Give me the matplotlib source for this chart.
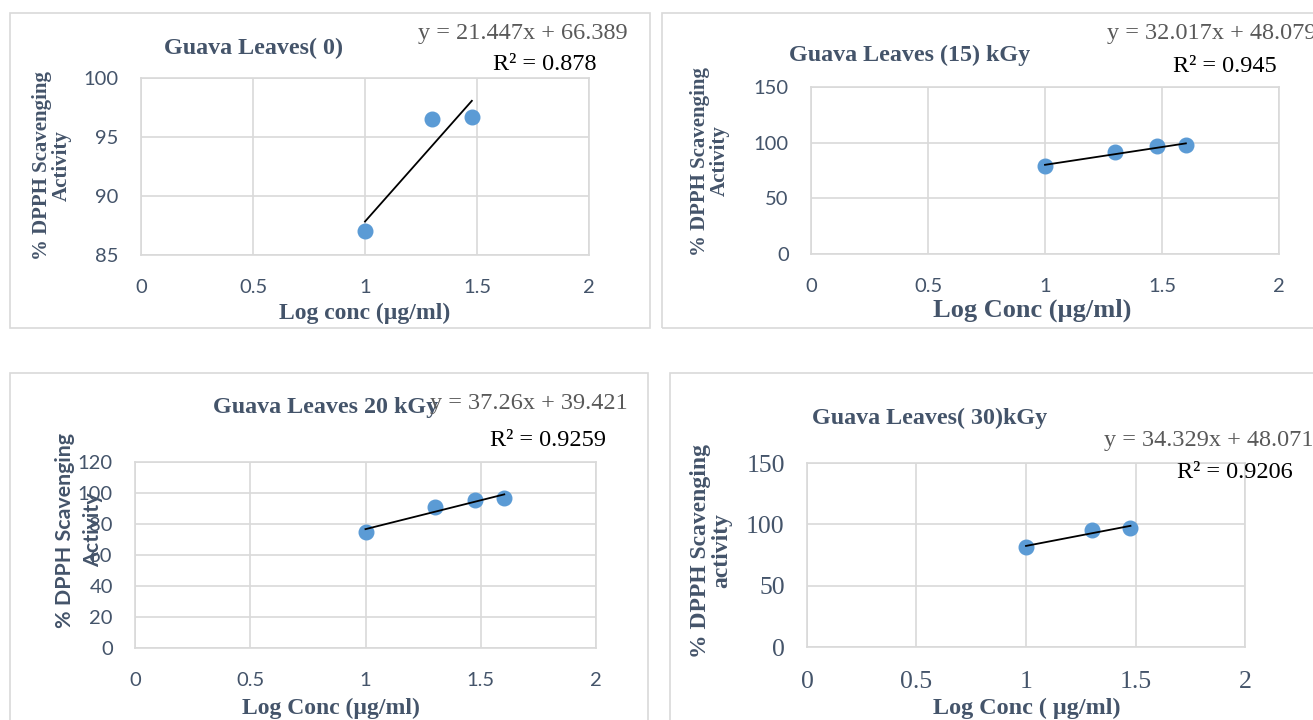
import numpy as np
import matplotlib.pyplot as plt
from matplotlib.patches import Rectangle

W, H = 1313, 720

# data
x_conc = [1.0, 1.301, 1.477, 1.602]

y_0kgy = [87.0, 96.5, 96.7]
y_15kgy = [79.0, 91.8, 97.0, 97.5]
y_20kgy = [75.0, 91.0, 95.8, 96.8]
y_30kgy = [81.2, 95.5, 97.2]

titles = ["Guava Leaves( 0)", "Guava Leaves (15) kGy", "Guava Leaves 20 kGy", "Guava Leaves( 30)kGy"]
equations = ["y = 21.447x + 66.389", "y = 32.017x + 48.079", "y = 37.26x + 39.421", "y = 34.329x + 48.071"]
r2_labels = ["R² = 0.878", "R² = 0.945", "R² = 0.9259", "R² = 0.9206"]
slopes = [21.447, 32.017, 37.26, 34.329]
intercepts = [66.389, 48.079, 39.421, 48.071]
xlabels = ["Log conc (µg/ml)", "Log Conc (µg/ml)", "Log Conc (µg/ml)", "Log Conc ( µg/ml)"]
ylabels = ["% DPPH Scavenging\nActivity", "% DPPH Scavenging\nActivity",
           "% DPPH Scavenging\nActivity", "% DPPH Scavenging\nactivity"]
y_ticks = [[85, 90, 95, 100], [0, 50, 100, 150], [0, 20, 40, 60, 80, 100, 120], [0, 50, 100, 150]]
x_ticks = [0, 0.5, 1, 1.5, 2]

series = [y_0kgy, y_15kgy, y_20kgy, y_30kgy]

SERIF = "Liberation Serif"
SANS = "Lato"
DARK = "#44546a"
GREY = "#595959"
GRID = "#d9d9d9"
BLUE = "#5b9bd5"

fig = plt.figure(figsize=(W / 100, H / 100), dpi=100)


def px(x, y):
    return x / W, 1 - y / H


def ftext(x, y, s, **kw):
    fx, fy = px(x, y)
    fig.text(fx, fy, s, ha="center", va="center", **kw)


# outer chart boxes (pixels: x0, y0, x1, y1)
boxes = [(10, 13, 650, 328), (662, 13, 1320, 328), (10, 373, 648, 730), (670, 373, 1320, 730)]
for x0, y0, x1, y1 in boxes:
    fig.patches.append(Rectangle(px(x0, y1), (x1 - x0) / W, (y1 - y0) / H,
                                 transform=fig.transFigure, fill=False,
                                 edgecolor=GRID, linewidth=1.2))

# plot areas (pixels: left, top, right, bottom)
areas = [(141, 78, 589, 255), (811, 87, 1279, 254), (135, 462, 596, 648), (807, 463, 1245, 647)]
tick_fonts = [(SANS, 14.5), (SANS, 14.5), (SANS, 14.5), (SERIF, 18.5)]

for i, (l, t, r, b) in enumerate(areas):
    fl, fb = px(l, b)
    ax = fig.add_axes([fl, fb, (r - l) / W, (b - t) / H])
    ys = series[i]
    xs = x_conc[:len(ys)]
    ax.plot(xs, ys, "o", color=BLUE, markersize=10.5, zorder=3)
    xt = np.array([xs[0], xs[-1]])
    ax.plot(xt, slopes[i] * xt + intercepts[i], color="black", linewidth=1.3, zorder=4)
    ax.set_xlim(0, 2)
    ax.set_ylim(y_ticks[i][0], y_ticks[i][-1])
    ax.set_xticks(x_ticks)
    ax.set_xticklabels([f"{v:g}" for v in x_ticks])
    ax.set_yticks(y_ticks[i])
    ax.grid(True, color=GRID, linewidth=1.2)
    ax.set_axisbelow(True)
    for s in ax.spines.values():
        s.set_color(GRID)
        s.set_linewidth(1.2)
    fam, size = tick_fonts[i]
    ax.tick_params(axis="x", length=0, colors=DARK, labelsize=size, pad=17)
    ax.tick_params(axis="y", length=0, colors=DARK, labelsize=size, pad=16)
    for lab in ax.get_xticklabels() + ax.get_yticklabels():
        lab.set_family(fam)

# panel texts
ftext(253, 48, titles[0], family=SERIF, weight="bold", color=DARK, fontsize=17.3)
ftext(523, 33, equations[0], family=SERIF, color=GREY, fontsize=17.5)
ftext(545, 64, r2_labels[0], family=SERIF, color="black", fontsize=17.5)
ftext(52, 166, ylabels[0], family=SERIF, weight="bold", color=DARK, fontsize=15, rotation=90, linespacing=1.0)
ftext(365, 313, xlabels[0], family=SERIF, weight="bold", color=DARK, fontsize=17)

ftext(910, 55, titles[1], family=SERIF, weight="bold", color=DARK, fontsize=17.3)
ftext(1212, 33, equations[1], family=SERIF, color=GREY, fontsize=17.5)
ftext(1225, 67, r2_labels[1], family=SERIF, color="black", fontsize=17.5)
ftext(710, 161, ylabels[1], family=SERIF, weight="bold", color=DARK, fontsize=15, rotation=90, linespacing=1.0)
ftext(1032, 310, xlabels[1], family=SERIF, weight="bold", color=DARK, fontsize=19)

ftext(326, 407, titles[2], family=SERIF, weight="bold", color=DARK, fontsize=17.3)
ftext(529, 404, equations[2], family=SERIF, color=GREY, fontsize=17.5)
ftext(548, 440, r2_labels[2], family=SERIF, color="black", fontsize=17.5)
ftext(79, 530, ylabels[2], family=SANS, weight="bold", color=DARK, fontsize=15.4, rotation=90, linespacing=1.5)
ftext(331, 708, xlabels[2], family=SERIF, weight="bold", color=DARK, fontsize=17)

ftext(930, 418, titles[3], family=SERIF, weight="bold", color=DARK, fontsize=17.3)
ftext(1209, 440, equations[3], family=SERIF, color=GREY, fontsize=17.5)
ftext(1235, 472, r2_labels[3], family=SERIF, color="black", fontsize=17.5)
ftext(711, 551, ylabels[3], family=SERIF, weight="bold", color=DARK, fontsize=17, rotation=90, linespacing=1.0)
ftext(1027, 708, xlabels[3], family=SERIF, weight="bold", color=DARK, fontsize=17.4)

fig.savefig("out.png", dpi=100)
